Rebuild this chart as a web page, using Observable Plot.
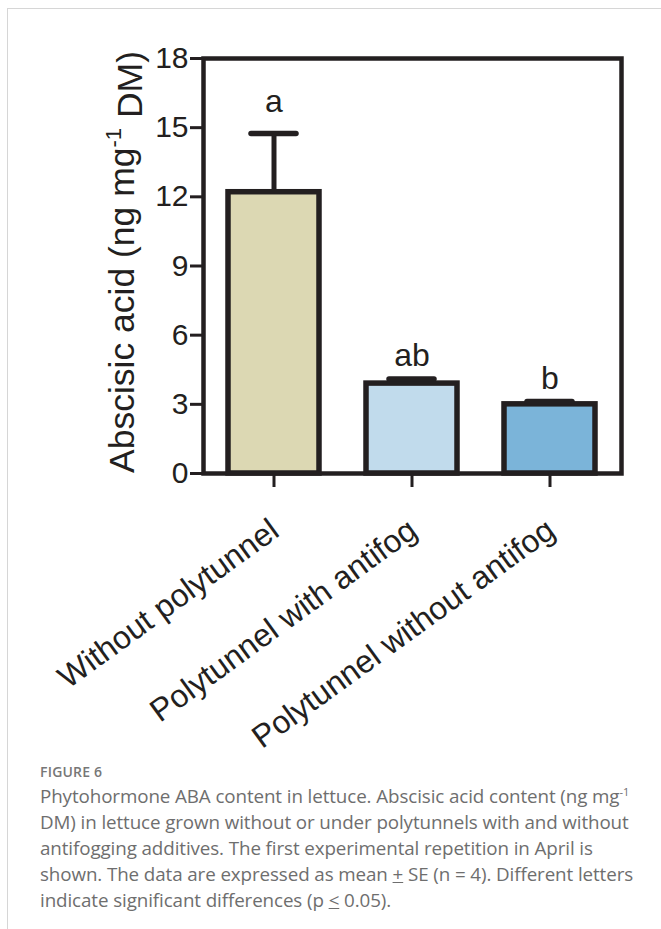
<!DOCTYPE html>
<html><head><meta charset="utf-8">
<script src="https://cdn.jsdelivr.net/npm/d3@7"></script>
<script src="https://cdn.jsdelivr.net/npm/@observablehq/plot@0.6"></script>
<style>
html,body{margin:0;padding:0;background:#fff}
body{width:661px;height:929px;position:relative;overflow:hidden}
#border{position:absolute;left:7px;top:8px;width:660px;height:930px;border-top:1px solid #d6d6d6;border-left:1px solid #d6d6d6}
#chart{position:absolute;left:0;top:0}
#caption{position:absolute;left:40px;top:762px;font-family:"Open Sans",sans-serif;color:#6e6e6e;white-space:nowrap}
#caption .fig{font-size:14px;font-weight:600;letter-spacing:0.2px;line-height:20px;color:#777}
#caption .txt{font-size:18.8px;line-height:26px;margin-top:1px;letter-spacing:-0.1px}
#caption sup{font-size:11px;line-height:0}
</style></head><body>
<div id="border"></div>
<div id="chart"></div>
<div id="caption"><div class="fig">FIGURE 6</div><div class="txt">Phytohormone ABA content in lettuce. Abscisic acid content (ng mg<sup>-1</sup><br>DM) in lettuce grown without or under polytunnels with and without<br>antifogging additives. The first experimental repetition in April is<br>shown. The data are expressed as mean <u>+</u> SE (n = 4). Different letters<br>indicate significant differences (p <u>&lt;</u> 0.05).</div></div>
<script>
const categories = ["Without polytunnel", "Polytunnel with antifog", "Polytunnel without antifog"];
const means = [12.2, 3.9, 3.0];
const errors = [2.55, 0.2, 0.12];
const letters = ["a", "ab", "b"];
const barColors = ["#dcd8b3", "#c1dbec", "#7bb4d9"];
const yTicks = [0, 3, 6, 9, 12, 15, 18];
const yLabel = "Abscisic acid (ng mg-1 DM)";

const data = categories.map((c, i) => ({cat: c, mean: means[i], hi: means[i] + errors[i], letter: letters[i], color: barColors[i]}));
const ink = "#231f20";
const font = '"Liberation Sans", Arial, sans-serif';

// vertical offsets of the significance letters above the error caps
const letterDy = [-32, -23, -23];

const chart = Plot.plot({
  width: 661, height: 770,
  marginLeft: 203, marginRight: 40, marginTop: 58, marginBottom: 297,
  style: {fontFamily: font, background: "transparent", color: ink, overflow: "visible"},
  x: {domain: categories, paddingInner: 0.338, paddingOuter: 0.173, axis: null},
  y: {domain: [0, 18], axis: null},
  marks: [
    Plot.ruleX(data, {x: "cat", y1: "mean", y2: "hi", stroke: ink, strokeWidth: 5}),
    Plot.barY(data, {x: "cat", y: "mean", fill: "color", stroke: ink, strokeWidth: 5.5}),
    Plot.tickY(data, {x: "cat", y: "hi", stroke: ink, strokeWidth: 5.5, insetLeft: 23, insetRight: 23, strokeLinecap: "round"}),
    Plot.frame({stroke: ink, strokeWidth: 4.5}),
    Plot.axisY({ticks: yTicks, tickSize: 13, tickPadding: 2, strokeWidth: 3, stroke: ink, fontSize: 30, label: null}),
    Plot.axisX({tickSize: 14, strokeWidth: 3, stroke: ink, tickFormat: () => "", label: null}),
    ...data.map((d, i) => Plot.text([d], {x: "cat", y: "hi", text: "letter", dy: letterDy[i], fontSize: 32, fill: ink})),
    Plot.text(data, {x: "cat", y: () => 0, text: "cat", rotate: -36, textAnchor: "end", lineAnchor: "middle", dx: 1, dy: 53, fontSize: 32, fill: ink}),
    Plot.text([yLabel], {frameAnchor: "left", textAnchor: "middle", rotate: -90, dx: -81, dy: -4, fontSize: 35.5, fill: ink, text: d => d})
  ]
});
document.getElementById("chart").appendChild(chart);

// superscript on the y-axis title
d3.select(chart).selectAll("text").filter(function() { return this.textContent === yLabel; }).each(function() {
  const t = d3.select(this);
  t.text(null);
  t.append("tspan").text("Abscisic acid (ng mg");
  t.append("tspan").text("-1").attr("font-size", 22).attr("dy", "-0.6em");
  t.append("tspan").text(" DM)").attr("dy", "0.6em");
});
</script>
</body></html>
